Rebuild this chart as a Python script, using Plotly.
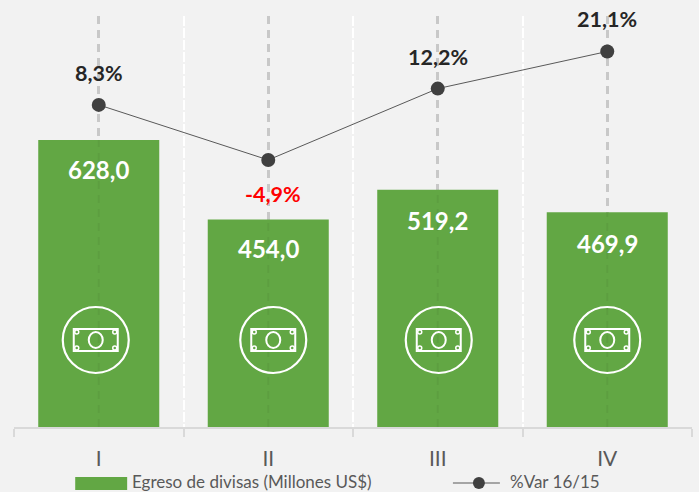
import plotly.graph_objects as go

categories = ["I", "II", "III", "IV"]
egreso = [628.0, 454.0, 519.2, 469.9]
variacion = [8.3, -4.9, 12.2, 21.1]
egreso_labels = ["628,0", "454,0", "519,2", "469,9"]
variacion_labels = ["8,3%", "-4,9%", "12,2%", "21,1%"]
label_colors = ["#262626", "#ff0000", "#262626", "#262626"]
label_shifts = [32, -34, 32, 32]
label_xshifts = [0, 5, 0, 0]
value_shifts = [-30, -29, -31, -31]
icon_shifts = [-3, 5, 1, 0]
GREEN = "#62a744"
FONT = "Lato"

xs = list(range(len(categories)))
fig = go.Figure()
fig.add_trace(go.Bar(x=xs, y=egreso, width=0.714, marker=dict(color=GREEN, line_width=0),
                     name="Egreso de divisas (Millones US$)", yaxis="y"))
fig.add_trace(go.Scatter(x=xs, y=variacion, mode="lines+markers", yaxis="y2", name="%Var 16/15",
                         line=dict(color="#595959", width=1),
                         marker=dict(color="#404040", size=14)))

shapes = []
annotations = []
for x in xs:
    shapes.append(dict(type="line", xref="x", yref="y", x0=x, x1=x, y0=0, y1=egreso[x], layer="above",
                       line=dict(color="rgba(0,0,0,0.05)", width=2, dash="8px 6px")))
    annotations.append(dict(x=x, y=egreso[x], xref="x", yref="y", text=f"<b>{egreso_labels[x]}</b>",
                            showarrow=False, yshift=value_shifts[x], yanchor="middle",
                            font=dict(color="white", size=24, family=FONT)))
    annotations.append(dict(x=x, y=variacion[x], xref="x", yref="y2", text=f"<b>{variacion_labels[x]}</b>",
                            showarrow=False, yshift=label_shifts[x], xshift=label_xshifts[x], yanchor="middle",
                            font=dict(color=label_colors[x], size=21.5, family=FONT)))
    cy = (427 - 340) / 411
    dx = icon_shifts[x]
    def pix(kind, x0, x1, y0, y1, width=2):
        shapes.append(dict(type=kind, xref="x", yref="paper", xanchor=x, yanchor=cy,
                           xsizemode="pixel", ysizemode="pixel",
                           x0=dx + x0, x1=dx + x1, y0=y0, y1=y1, layer="above",
                           line=dict(color="white", width=width)))
    pix("circle", -33, 33, -33, 33, 2.2)
    pix("rect", -22, 22, -11, 11, 2)
    pix("circle", -7, 7, -8, 8, 2)
    for sx in (-19, 19):
        for sy in (-8, 8):
            pix("circle", sx - 2, sx + 2, sy - 2, sy + 2, 1.5)

shapes.append(dict(type="rect", xref="paper", yref="paper", x0=(75 - 13.75) / 678.5, x1=(127 - 13.75) / 678.5,
                   y0=-(490 - 427) / 411, y1=-(477 - 427) / 411, fillcolor=GREEN, line_width=0))
shapes.append(dict(type="line", xref="paper", yref="paper", x0=(453 - 13.75) / 678.5, x1=(500 - 13.75) / 678.5,
                   y0=-(483 - 427) / 411, y1=-(483 - 427) / 411, line=dict(color="#595959", width=1)))
shapes.append(dict(type="circle", xref="paper", yref="paper", xsizemode="pixel", ysizemode="pixel",
                   xanchor=(479 - 13.75) / 678.5, yanchor=-(483 - 427) / 411, x0=-6, x1=6, y0=-6, y1=6,
                   fillcolor="#404040", line_width=0))
annotations.append(dict(xref="paper", yref="paper", x=(130 - 13.75) / 678.5, y=-(481 - 427) / 411,
                        xanchor="left", yanchor="middle", showarrow=False,
                        text="Egreso de divisas (Millones US$)", font=dict(color="#595959", size=17, family=FONT)))
annotations.append(dict(xref="paper", yref="paper", x=(508 - 13.75) / 678.5, y=-(481 - 427) / 411,
                        xanchor="left", yanchor="middle", showarrow=False,
                        text="%Var 16/15", font=dict(color="#595959", size=17, family=FONT)))

fig.update_layout(
    width=699, height=492,
    margin=dict(l=13.75, r=6.75, t=16, b=65, pad=0),
    paper_bgcolor="#f2f2f2", plot_bgcolor="#f2f2f2",
    showlegend=False, bargap=0.286,
    font=dict(family=FONT, color="#595959"),
    xaxis=dict(range=[-0.5, 3.5], tickmode="array", tickvals=xs, ticktext=categories,
               ticks="", tickfont=dict(size=21, color="#595959"), ticklabelstandoff=12,
               showline=True, linecolor="#d9d9d9", linewidth=2, zeroline=False,
               showgrid=True, gridcolor="#c8c8c8", gridwidth=2.5, griddash="8px 6px",
               minor=dict(tick0=-0.5, dtick=1, ticks="outside", ticklen=8, tickcolor="#d9d9d9", tickwidth=2,
                          showgrid=True, gridcolor="#ffffff", gridwidth=2, griddash="10px 2px")),
    yaxis=dict(range=[0, 899], visible=False, fixedrange=True),
    yaxis2=dict(range=[-68.9, 29.6], overlaying="y", side="right", visible=False, fixedrange=True),
    shapes=shapes, annotations=annotations,
)
fig.write_html("out.html", config=dict(displayModeBar=False),
               post_script="document.body.style.margin='0';document.body.style.background='#f2f2f2';")
